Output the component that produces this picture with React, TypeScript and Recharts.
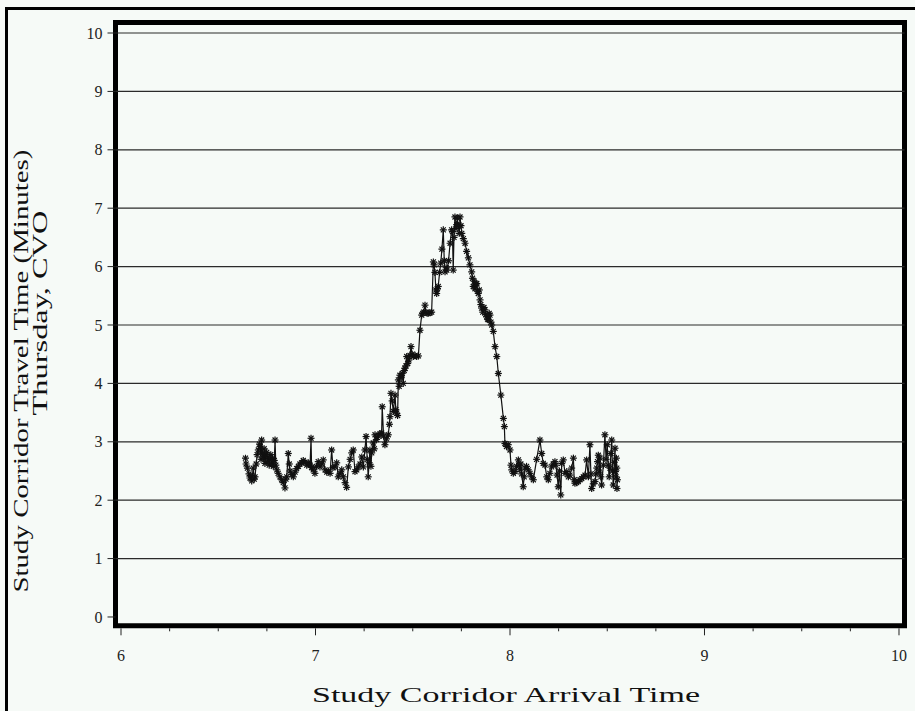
import { ScatterChart, Scatter, XAxis, YAxis, ReferenceLine, ReferenceArea } from "recharts";

// arrival time (decimal hours) and travel time (minutes)
const ARRIVAL = [
  6.640, 6.643, 6.650, 6.658, 6.663, 6.668, 6.672, 6.680, 6.685, 6.689, 6.695, 6.700, 6.706, 6.712, 6.715,
  6.720, 6.723, 6.728, 6.732, 6.736, 6.740, 6.745, 6.749, 6.752, 6.757, 6.762, 6.766, 6.770, 6.775, 6.779,
  6.783, 6.788, 6.792, 6.796, 6.801, 6.808, 6.817, 6.826, 6.834, 6.843, 6.848, 6.852, 6.860, 6.865, 6.869,
  6.878, 6.886, 6.895, 6.903, 6.912, 6.920, 6.929, 6.937, 6.946, 6.955, 6.963, 6.968, 6.972, 6.977, 6.980,
  6.988, 6.997, 7.005, 7.014, 7.023, 7.032, 7.040, 7.049, 7.058, 7.066, 7.075, 7.083, 7.090, 7.100, 7.109,
  7.117, 7.126, 7.135, 7.143, 7.152, 7.160, 7.169, 7.178, 7.186, 7.194, 7.203, 7.212, 7.220, 7.229, 7.238,
  7.246, 7.254, 7.260, 7.266, 7.271, 7.276, 7.280, 7.285, 7.289, 7.297, 7.302, 7.306, 7.314,
  7.323, 7.332, 7.340, 7.343, 7.350, 7.357, 7.365, 7.374, 7.380, 7.383, 7.388, 7.394, 7.400, 7.409, 7.413,
  7.417, 7.422, 7.426, 7.430, 7.434, 7.440, 7.446, 7.451, 7.456, 7.460, 7.465, 7.469, 7.474, 7.480, 7.486,
  7.491, 7.497, 7.503, 7.512, 7.520, 7.529, 7.537, 7.546, 7.551, 7.556, 7.563, 7.568, 7.574, 7.580, 7.589,
  7.597,
  7.606, 7.610, 7.614, 7.619, 7.623, 7.627, 7.631, 7.638, 7.644, 7.650, 7.657, 7.662, 7.666, 7.672, 7.675,
  7.684, 7.692, 7.700, 7.704, 7.708, 7.712, 7.717, 7.722, 7.726, 7.729, 7.734, 7.739, 7.743, 7.748, 7.752,
  7.760, 7.769, 7.777, 7.786, 7.794, 7.803, 7.807, 7.811, 7.816, 7.820, 7.825, 7.829, 7.833, 7.837, 7.842,
  7.846, 7.850, 7.854, 7.860, 7.866, 7.871, 7.876, 7.880, 7.885, 7.888, 7.893, 7.897, 7.902, 7.906, 7.914,
  7.923, 7.932, 7.940, 7.953, 7.966, 7.971, 7.974, 7.982, 7.991, 8.000, 8.005, 8.009,
  8.017, 8.026, 8.034, 8.043, 8.047, 8.051, 8.056, 8.060, 8.068, 8.073, 8.077, 8.085, 8.094, 8.103, 8.111,
  8.120, 8.137, 8.154, 8.163, 8.171, 8.180, 8.189, 8.197, 8.205, 8.214, 8.222, 8.231, 8.236, 8.242, 8.248,
  8.254, 8.261, 8.266, 8.274, 8.283, 8.292, 8.300, 8.308, 8.317, 8.326, 8.330, 8.334, 8.343, 8.351, 8.360,
  8.369, 8.377, 8.386, 8.394, 8.403, 8.411, 8.416, 8.420, 8.428, 8.437, 8.442, 8.446, 8.450, 8.454, 8.459,
  8.463, 8.467, 8.471, 8.480, 8.488, 8.494, 8.500, 8.505, 8.510, 8.514, 8.519, 8.523, 8.527, 8.531, 8.536,
  8.540, 8.542, 8.545, 8.547, 8.549, 8.550, 8.552,
];

const TRAVEL = [
  2.72, 2.62, 2.55, 2.45, 2.38, 2.42, 2.33, 2.55, 2.36, 2.40, 2.62, 2.78, 2.86, 2.96, 2.92,
  2.70, 3.03, 2.80, 2.72, 2.88, 2.63, 2.78, 2.82, 2.66, 2.74, 2.60, 2.70, 2.78, 2.62, 2.72,
  2.58, 2.68, 3.03, 2.60, 2.52, 2.46, 2.40, 2.35, 2.30, 2.21, 2.36, 2.40, 2.80, 2.62, 2.50,
  2.44, 2.40, 2.48, 2.54, 2.58, 2.62, 2.64, 2.68, 2.65, 2.60, 2.64, 2.62, 2.60, 3.06, 2.56,
  2.52, 2.46, 2.58, 2.66, 2.57, 2.62, 2.69, 2.52, 2.48, 2.50, 2.46, 2.86, 2.56, 2.57, 2.64,
  2.40, 2.46, 2.52, 2.40, 2.30, 2.22, 2.57, 2.70, 2.81, 2.86, 2.49, 2.52, 2.57, 2.62, 2.74,
  2.57, 2.86, 3.09, 2.70, 2.40, 2.64, 2.86, 2.58, 2.81, 2.98, 2.88, 3.12, 3.04,
  3.10, 3.14, 3.15, 3.60, 3.10, 2.95, 3.05, 3.12, 3.30, 3.43, 3.83, 3.70, 3.52, 3.80, 3.55,
  3.49, 3.45, 4.06, 3.95, 4.14, 4.10, 4.17, 4.00, 4.22, 4.26, 4.30, 4.46, 4.34, 4.40, 4.48,
  4.63, 4.50, 4.46, 4.48, 4.46, 4.47, 4.91, 5.17, 5.20, 5.22, 5.34, 5.22, 5.20, 5.20, 5.21,
  5.22,
  6.08, 6.03, 5.90, 5.60, 5.54, 5.62, 5.66, 5.90, 6.06, 6.30, 6.63, 6.10, 5.91, 5.98, 5.94,
  6.10, 6.40, 6.63, 6.60, 5.94, 6.50, 6.85, 6.65, 6.72, 6.83, 6.70, 6.57, 6.85, 6.70, 6.57,
  6.48, 6.40, 6.26, 6.15, 6.03, 5.91, 5.80, 5.66, 5.75, 5.62, 5.70, 5.71, 5.58, 5.54, 5.60,
  5.43, 5.35, 5.29, 5.22, 5.30, 5.26, 5.18, 5.14, 5.10, 5.09, 5.20, 5.17, 5.05, 5.00, 4.89,
  4.63, 4.46, 4.17, 3.80, 3.40, 3.26, 2.97, 2.92, 2.95, 2.86, 2.60, 2.52,
  2.46, 2.49, 2.58, 2.69, 2.60, 2.52, 2.62, 2.45, 2.23, 2.40, 2.55, 2.58, 2.52, 2.46, 2.40,
  2.35, 2.70, 3.03, 2.80, 2.63, 2.60, 2.40, 2.35, 2.46, 2.57, 2.62, 2.66, 2.60, 2.43, 2.23,
  2.50, 2.09, 2.63, 2.69, 2.46, 2.49, 2.40, 2.43, 2.55, 2.72, 2.35, 2.29, 2.30, 2.32, 2.35,
  2.37, 2.40, 2.43, 2.69, 2.40, 2.95, 2.45, 2.20, 2.28, 2.32, 2.45, 2.55, 2.66, 2.77, 2.48,
  2.72, 2.40, 2.26, 2.60, 3.12, 2.70, 2.95, 2.60, 2.40, 2.55, 2.80, 3.03, 2.50, 2.26, 2.65,
  2.89, 2.49, 2.40, 2.72, 2.55, 2.20, 2.35,
];

const X_TICKS = [6, 6.25, 6.5, 6.75, 7, 7.25, 7.5, 7.75, 8, 8.25, 8.5, 8.75, 9, 9.25, 9.5, 9.75, 10];
const Y_TICKS = [0, 1, 2, 3, 4, 5, 6, 7, 8, 9, 10];
const GRID_Y = [1, 2, 3, 4, 5, 6, 7, 8, 9, 10];

// axis ranges, with a small margin between the frame and the first/last tick
const X_DOMAIN = [5.9717, 10.0283];
const Y_DOMAIN = [-0.151, 10.18];

const data = ARRIVAL.map((t, i) => ({ t, m: TRAVEL[i] }));

const BG = "#f6faf7";
const SERIF = "'Liberation Serif', 'Times New Roman', serif";

function Asterisk(props: any) {
  const { cx, cy } = props;
  if (cx == null || cy == null) return null;
  const r = 3.5;
  const d = 2.5;
  return (
    <g stroke="#111" strokeWidth={1.2}>
      <line x1={cx} y1={cy - r} x2={cx} y2={cy + r} />
      <line x1={cx - r} y1={cy} x2={cx + r} y2={cy} />
      <line x1={cx - d} y1={cy - d} x2={cx + d} y2={cy + d} />
      <line x1={cx - d} y1={cy + d} x2={cx + d} y2={cy - d} />
    </g>
  );
}

function XTick(props: any) {
  const { x, y, payload } = props;
  const major = Number.isInteger(payload.value);
  return (
    <g>
      <line x1={x} x2={x} y1={y + 2.5} y2={y + (major ? 9.5 : 5.5)} stroke="#222" />
      {major && (
        <text x={x} y={y + 35.5} textAnchor="middle" fontSize={16} fontFamily={SERIF} fill="#222">
          {payload.value}
        </text>
      )}
    </g>
  );
}

function XLabel(props: any) {
  const vb = props.viewBox;
  return (
    <text
      x={506}
      y={vb.y + 76}
      textAnchor="middle"
      fontSize={21}
      fontFamily={SERIF}
      fill="#111"
      textLength={388}
      lengthAdjust="spacingAndGlyphs"
    >
      Study Corridor Arrival Time
    </text>
  );
}

function YLabel() {
  return (
    <g fontFamily={SERIF} fontSize={21} fill="#111">
      <text transform="translate(28, 371) rotate(-90)" textAnchor="middle" textLength={443} lengthAdjust="spacingAndGlyphs">
        Study Corridor Travel Time (Minutes)
      </text>
      <text transform="translate(47, 313) rotate(-90)" textAnchor="middle" textLength={205} lengthAdjust="spacingAndGlyphs">
        Thursday, CVO
      </text>
    </g>
  );
}

export default function App() {
  return (
    <div style={{ position: "absolute", left: 0, top: 0, width: 915, height: 711, background: BG, overflow: "hidden" }}>
      <div
        style={{
          position: "absolute",
          left: 5,
          top: 7,
          width: 915,
          height: 720,
          borderLeft: "3px solid #000",
          borderTop: "3px solid #000",
        }}
      />
      <div style={{ position: "absolute", left: 0, top: 0 }}>
        <ScatterChart width={915} height={711} margin={{ top: 22.5, right: 10.5, bottom: 0, left: 0 }}>
          <XAxis
            dataKey="t"
            type="number"
            domain={X_DOMAIN}
            allowDataOverflow
            ticks={X_TICKS}
            interval={0}
            height={85.2}
            axisLine={false}
            tickLine={false}
            tickSize={0}
            tickMargin={0}
            tick={<XTick />}
            label={<XLabel />}
          />
          <YAxis
            dataKey="m"
            type="number"
            domain={Y_DOMAIN}
            allowDataOverflow
            ticks={Y_TICKS}
            interval={0}
            width={115.5}
            axisLine={false}
            tickLine={{ stroke: "#222" }}
            tickSize={8}
            tickMargin={5}
            tick={{ fontSize: 16, fontFamily: SERIF, fill: "#222" }}
            label={<YLabel />}
          />
          {GRID_Y.map((v) => (
            <ReferenceLine key={v} y={v} stroke="#2a2a2a" strokeWidth={1.2} />
          ))}
          <ReferenceArea
            x1={X_DOMAIN[0]}
            x2={X_DOMAIN[1]}
            y1={Y_DOMAIN[0]}
            y2={Y_DOMAIN[1]}
            fill="none"
            fillOpacity={0}
            stroke="#000"
            strokeWidth={5}
            strokeOpacity={1}
          />
          <Scatter
            data={data}
            line={{ stroke: "#111", strokeWidth: 1.2 }}
            lineType="joint"
            shape={Asterisk}
            isAnimationActive={false}
          />
        </ScatterChart>
      </div>
    </div>
  );
}
